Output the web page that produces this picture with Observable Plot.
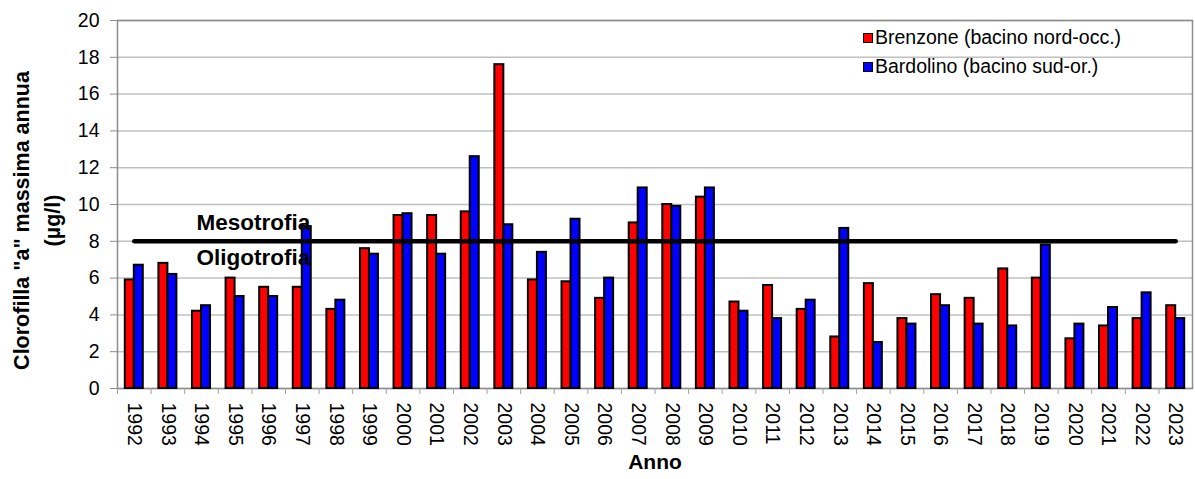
<!DOCTYPE html>
<html>
<head>
<meta charset="utf-8">
<script src="https://cdn.jsdelivr.net/npm/d3@7"></script>
<script src="https://cdn.jsdelivr.net/npm/@observablehq/plot@0.6"></script>
<style>
  body { margin: 0; background: #fff; }
  #wrap { position: relative; width: 1195px; height: 479px; font-family: "Liberation Sans", Arial, sans-serif; }
  #legend { position: absolute; left: 863px; top: 23px; font-size: 19.5px; color: #000; line-height: 29px; }
  #legend .sw { display: inline-block; width: 8px; height: 8px; border: 1.5px solid #000; margin-right: 2px; vertical-align: 1px; }
</style>
</head>
<body>
<div id="wrap"></div>
<script>
const years = ["1992","1993","1994","1995","1996","1997","1998","1999","2000","2001","2002","2003","2004","2005","2006","2007","2008","2009","2010","2011","2012","2013","2014","2015","2016","2017","2018","2019","2020","2021","2022","2023"];
const brenzone = [5.9,6.8,4.2,6.0,5.5,5.5,4.3,7.6,9.4,9.4,9.6,17.6,5.9,5.8,4.9,9.0,10.0,10.4,4.7,5.6,4.3,2.8,5.7,3.8,5.1,4.9,6.5,6.0,2.7,3.4,3.8,4.5];
const bardolino = [6.7,6.2,4.5,5.0,5.0,8.8,4.8,7.3,9.5,7.3,12.6,8.9,7.4,9.2,6.0,10.9,9.9,10.9,4.2,3.8,4.8,8.7,2.5,3.5,4.5,3.5,3.4,7.8,3.5,4.4,5.2,3.8];
const yTicks = [0,2,4,6,8,10,12,14,16,18,20];
const seriesNames = ["Brenzone (bacino nord-occ.)", "Bardolino (bacino sud-or.)"];
const seriesColors = ["#ff0000", "#0000ff"];
const threshold = 8;
const thresholdLabels = ["Mesotrofia", "Oligotrofia"];
const xTitle = "Anno";
const yTitle = "Clorofilla \"a\" massima annua\n(µg/l)";

const rows = years.map((y, i) => ({year: y, brenzone: brenzone[i], bardolino: bardolino[i]}));
const thresholdLine = [{year: years[0], v: threshold}, {year: years[years.length - 1], v: threshold}];

const W = 1195, H = 479, mL = 117, mR = 3, mT = 20, mB = 91;
const step = (W - mL - mR) / years.length;
const half = step / 2, barW = 9;

const chart = Plot.plot({
  width: W,
  height: H,
  marginLeft: mL,
  marginRight: mR,
  marginTop: mT,
  marginBottom: mB,
  style: {fontFamily: "'Liberation Sans', Arial, sans-serif", fontSize: "19.5px", color: "#000", background: "#fff"},
  x: {domain: years, padding: 0, round: false, axis: null},
  y: {domain: [0, 20], axis: null},
  marks: [
    Plot.gridY(yTicks, {stroke: "#c0c0c0", strokeOpacity: 1, strokeWidth: 1.5}),
    Plot.frame({stroke: "#8c8c8c", strokeWidth: 1.5}),
    Plot.axisY(yTicks, {tickSize: 7, tickPadding: 11, stroke: "#8c8c8c", fontSize: 19.5, fill: "#000", label: null}),
    Plot.axisX(years, {tickSize: 6, tickFormat: () => "", dx: -half, stroke: "#a0a0a0", label: null}),
    Plot.axisX(years, {tickSize: 0, tickPadding: 14, tickRotate: 90, fontSize: 19.5, fill: "#000", label: null}),
    Plot.barY(rows, {x: "year", y: "brenzone", fill: seriesColors[0], stroke: "#000", strokeWidth: 2, insetLeft: half - barW, insetRight: half}),
    Plot.barY(rows, {x: "year", y: "bardolino", fill: seriesColors[1], stroke: "#000", strokeWidth: 2, insetLeft: half, insetRight: half - barW}),
    Plot.lineY(thresholdLine, {x: "year", y: "v", stroke: "#000", strokeWidth: 4.5, strokeLinecap: "round"}),
    Plot.text([thresholdLabels[0]], {y: [threshold], frameAnchor: "left", dx: 79, dy: -19, textAnchor: "start", fontWeight: "bold", fontSize: 22.5, fill: "#000"}),
    Plot.text([thresholdLabels[1]], {y: [threshold], frameAnchor: "left", dx: 79, dy: 16, textAnchor: "start", fontWeight: "bold", fontSize: 22.5, fill: "#000"}),
    Plot.text([xTitle], {frameAnchor: "bottom", dy: 80, textAnchor: "middle", fontWeight: "bold", fontSize: 21, fill: "#000"}),
    Plot.text([yTitle], {frameAnchor: "left", dx: -83, dy: 16, textAnchor: "middle", rotate: -90, fontWeight: "bold", fontSize: 21.5, lineHeight: 1.45, fill: "#000"})
  ]
});

const wrap = document.getElementById("wrap");
wrap.appendChild(chart);
const legend = document.createElement("div");
legend.id = "legend";
legend.innerHTML = seriesNames.map((n, i) => `<div><span class="sw" style="background:${seriesColors[i]}"></span>${n}</div>`).join("");
wrap.appendChild(legend);
</script>
</body>
</html>
